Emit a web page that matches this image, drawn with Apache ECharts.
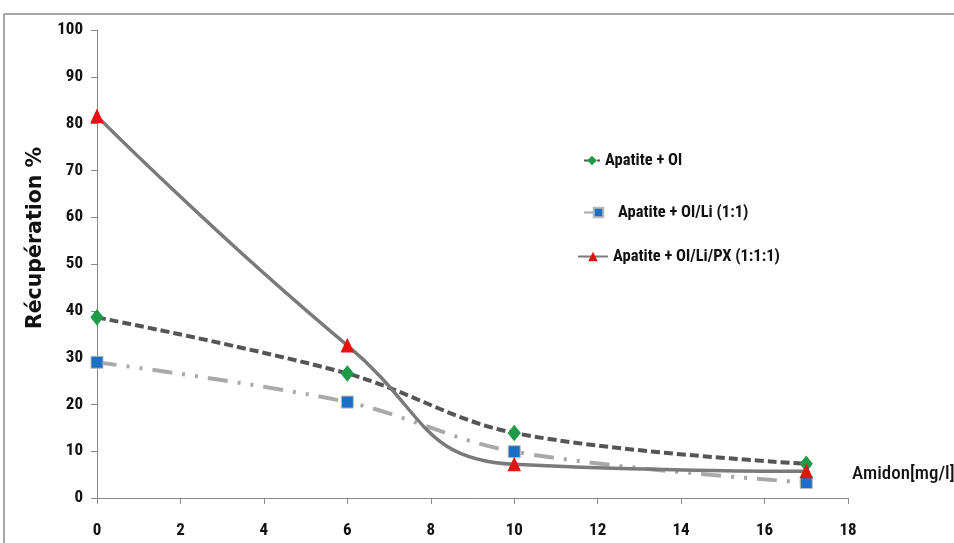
<!DOCTYPE html>
<html><head><meta charset="utf-8">
<script src="https://cdn.jsdelivr.net/npm/echarts@6/dist/echarts.min.js"></script>
<style>html,body{margin:0;padding:0;background:#fff}#c{width:954px;height:543px}</style>
</head><body><div id="c"></div>
<script>
const xValues = [0, 6, 10, 17];
const seriesNames = ['Apatite + Ol', 'Apatite + Ol/Li (1:1)', 'Apatite + Ol/Li/PX (1:1:1)'];
const olValues = [38.6, 26.6, 13.9, 7.3];
const olLiValues = [29, 20.5, 9.9, 3.3];
const olLiPxValues = [81.6, 32.6, 7.2, 5.7];
const xTicks = {min: 0, max: 18, interval: 2};
const yTicks = {min: 0, max: 100, interval: 10};

const font = '"Liberation Sans Narrow", "Roboto Condensed", Roboto, sans-serif';
const pair = v => xValues.map((x, i) => [x, v[i]]);

const chart = echarts.init(document.getElementById('c'));
const legendBase = (name, left, top, w) => ({
  data: [name], left: left, top: top, itemWidth: w, itemHeight: 12, itemGap: 0,
  textStyle: {fontFamily: font, fontWeight: 'bold', fontSize: 16.5, color: '#111'}
});
chart.setOption({
  animation: false,
  backgroundColor: '#fff',
  grid: {left: 97, right: 106, top: 30, bottom: 45, outerBoundsMode: 'none', containLabel: false},
  legend: [
    legendBase(seriesNames[0], 578, 147, 16),
    legendBase(seriesNames[1], 578, 199, 29),
    legendBase(seriesNames[2], 572, 243, 30)
  ],
  xAxis: {
    type: 'value', min: xTicks.min, max: xTicks.max, interval: xTicks.interval,
    name: 'Amidon[mg/l]', nameLocation: 'end', nameGap: 4,
    nameTextStyle: {fontFamily: font, fontSize: 19, fontWeight: 500, color: '#111', verticalAlign: 'bottom', padding: [0, 0, 14, 0]},
    axisLine: {lineStyle: {color: '#888', width: 1}},
    axisTick: {show: true, length: 6, lineStyle: {color: '#888'}},
    axisLabel: {margin: 24, fontFamily: font, fontWeight: 'bold', fontSize: 17, color: '#111'},
    splitLine: {show: false}
  },
  yAxis: {
    type: 'value', min: yTicks.min, max: yTicks.max, interval: yTicks.interval,
    name: 'Récupération %', nameLocation: 'middle', nameGap: 44,
    nameTextStyle: {fontFamily: '"DejaVu Sans", Verdana, sans-serif', fontWeight: 'bold', fontSize: 20.5, color: '#111', padding: [0, 0, 0, 52]},
    axisLine: {show: true, lineStyle: {color: '#888', width: 1}},
    axisTick: {show: true, length: 6, lineStyle: {color: '#888'}},
    axisLabel: {margin: 14, fontFamily: font, fontWeight: 'bold', fontSize: 17, color: '#111'},
    splitLine: {show: false}
  },
  series: [
    {
      name: seriesNames[0], type: 'line', smooth: 0.35, data: pair(olValues),
      symbol: 'diamond', symbolSize: [12, 15],
      lineStyle: {color: '#555', width: 4, type: [9, 4]},
      itemStyle: {color: '#1f9a48', borderColor: '#1f9a48'}, z: 3
    },
    {
      name: seriesNames[1], type: 'line', smooth: 0.35, data: pair(olLiValues),
      symbol: 'rect', symbolSize: 12,
      lineStyle: {color: '#a9a9a9', width: 4, type: [20, 10, 3, 10, 3, 10]},
      itemStyle: {color: '#1c6fc4', borderColor: '#bbb', borderWidth: 1}, z: 2
    },
    {
      name: seriesNames[2], type: 'line', smooth: 0.5, data: pair(olLiPxValues),
      symbol: 'triangle', symbolSize: [12, 13],
      lineStyle: {color: '#7a7a7a', width: 3.5, type: 'solid'},
      itemStyle: {color: '#e3120f', borderColor: '#e3120f'}, z: 4
    }
  ],
  graphic: [
    {type: 'line', shape: {x1: 4, y1: 14, x2: 954, y2: 14}, style: {stroke: '#888', lineWidth: 1.5}},
    {type: 'line', shape: {x1: 4, y1: 14, x2: 4, y2: 543}, style: {stroke: '#888', lineWidth: 1.5}}
  ]
});
</script></body></html>
